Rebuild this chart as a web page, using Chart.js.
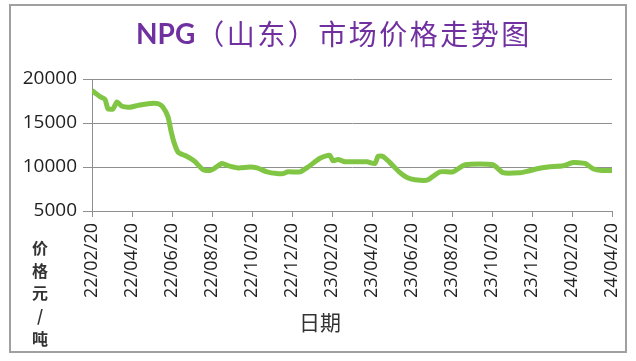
<!DOCTYPE html>
<html>
<head>
<meta charset="utf-8">
<script src="https://cdn.jsdelivr.net/npm/chart.js@4.4.1/dist/chart.umd.min.js"></script>
<style>
  html, body { margin: 0; padding: 0; background: #fff; }
  #wrap { position: relative; width: 636px; height: 361px; }
</style>
</head>
<body>
<div id="wrap"><canvas id="priceChart" width="636" height="361"></canvas></div>
<script>
// x position in months since 22/02/20
var months = [0, 0.4, 0.65, 0.8, 1.05, 1.25, 1.5, 1.9, 2.3, 2.8, 3.3, 3.55, 3.8, 3.95, 4.1, 4.3, 4.65, 4.9,
  5.15, 5.55, 5.9, 6.15, 6.5, 6.8, 7.3, 7.9, 8.25, 8.75, 9.25, 9.55, 9.8, 10.4, 10.8, 11.15, 11.4, 11.75,
  11.9, 12.05, 12.3, 12.65, 13.75, 14.15, 14.3, 14.55, 14.9, 15.4, 15.75, 16.15, 16.75, 17.4, 18.05, 18.65,
  20.05, 20.55, 21.4, 21.75, 22.25, 22.8, 23.55, 24.05, 24.65, 25.05, 25.5, 26];
// price yuan/ton
var prices = [18700, 18000, 17700, 16600, 16600, 17400, 16900, 16800, 17000, 17200, 17200, 16800, 15700, 14100,
  12800, 11700, 11300, 11000, 10600, 9700, 9600, 9900, 10400, 10150, 9900, 10000, 9900, 9450, 9250, 9250,
  9450, 9450, 10000, 10600, 11000, 11300, 11300, 10700, 10850, 10600, 10600, 10400, 11200, 11200, 10500,
  9350, 8800, 8550, 8500, 9450, 9450, 10250, 10250, 9350, 9350, 9500, 9800, 10000, 10150, 10500, 10400,
  9800, 9600, 9600];
var tickLabels = ['22/02/20', '22/04/20', '22/06/20', '22/08/20', '22/10/20', '22/12/20', '23/02/20',
  '23/04/20', '23/06/20', '23/08/20', '23/10/20', '23/12/20', '24/02/20', '24/04/20'];
var yTicks = [5000, 10000, 15000, 20000];

var titleLatin = 'NPG';
var titleCjk = '（山东）市场价格走势图';
var yTitleChars = ['价', '格', '元', '/', '吨'];
var xTitle = '日期';

var points = [];
for (var i = 0; i < months.length; i++) {
  points.push({x: months[i], y: prices[i]});
}

var gridGray = '#8f8f8f';
var labelFont = '"Open Sans", "Liberation Sans", sans-serif';

var decor = {
  id: 'decor',
  beforeDraw: function(chart) {
    var ctx = chart.ctx;
    ctx.save();
    ctx.fillStyle = '#fff';
    ctx.fillRect(0, 0, chart.width, chart.height);
    ctx.strokeStyle = '#a0a0a0';
    ctx.lineWidth = 2;
    ctx.strokeRect(10, 5, 616, 347);
    ctx.restore();
  },
  afterDraw: function(chart) {
    var ctx = chart.ctx;
    ctx.save();
    // title
    ctx.fillStyle = '#7030a0';
    ctx.textBaseline = 'middle';
    ctx.textAlign = 'left';
    ctx.font = 'bold 28px Lato, "Open Sans", sans-serif';
    ctx.fillText(titleLatin, 136, 35);
    var w = ctx.measureText(titleLatin).width;
    ctx.font = '28px "Noto Sans CJK SC", sans-serif';
    ctx.letterSpacing = '2.5px';
    ctx.fillText(titleCjk, 136 + w + 1, 34);
    ctx.letterSpacing = '0px';

    // stacked y title
    ctx.fillStyle = '#333';
    ctx.textAlign = 'center';
    ctx.font = 'bold 16px "Noto Sans CJK SC", sans-serif';
    var ys = [248, 271, 293, 316, 339];
    for (var i = 0; i < yTitleChars.length; i++) {
      ctx.fillText(yTitleChars[i], 40, ys[i]);
    }

    // x title
    ctx.font = '21px "Noto Sans CJK SC", sans-serif';
    ctx.fillText(xTitle, 320, 322);
    ctx.restore();
  }
};

var ctx = document.getElementById('priceChart').getContext('2d');
var priceChart = new Chart(ctx, {
  type: 'line',
  data: {
    datasets: [{
      data: points,
      borderColor: '#80c644',
      borderWidth: 5,
      pointRadius: 0,
      tension: 0.2,
      fill: false
    }]
  },
  options: {
    responsive: false,
    animation: false,
    layout: {padding: {left: 0, right: 24, top: 79, bottom: 0}},
    plugins: {
      legend: {display: false},
      tooltip: {enabled: false},
      title: {display: false}
    },
    scales: {
      x: {
        type: 'linear',
        min: 0,
        max: 26,
        afterBuildTicks: function(scale) {
          scale.ticks = tickLabels.map(function(l, i) { return {value: i * 2}; });
        },
        afterFit: function(scale) {
          scale.height = 150;
          scale.paddingLeft = 0;
          scale.paddingRight = 0;
        },
        grid: {drawOnChartArea: false, drawTicks: true, tickLength: 6, color: gridGray},
        border: {display: true, color: gridGray, width: 1},
        ticks: {
          autoSkip: false,
          maxRotation: 90,
          minRotation: 90,
          padding: 6,
          color: '#222',
          font: {family: labelFont, size: 18},
          callback: function(v) { return tickLabels[Math.round(v / 2)]; }
        }
      },
      y: {
        min: 5000,
        max: 20000,
        afterBuildTicks: function(scale) {
          scale.ticks = yTicks.map(function(v) { return {value: v}; });
        },
        afterFit: function(scale) { scale.width = 92; },
        grid: {color: gridGray, tickLength: 9, lineWidth: 1},
        border: {display: true, color: gridGray, width: 1},
        ticks: {
          padding: 6,
          color: '#222',
          font: {family: labelFont, size: 19},
          callback: function(v) { return String(v); }
        }
      }
    }
  },
  plugins: [decor]
});
</script>
</body>
</html>
